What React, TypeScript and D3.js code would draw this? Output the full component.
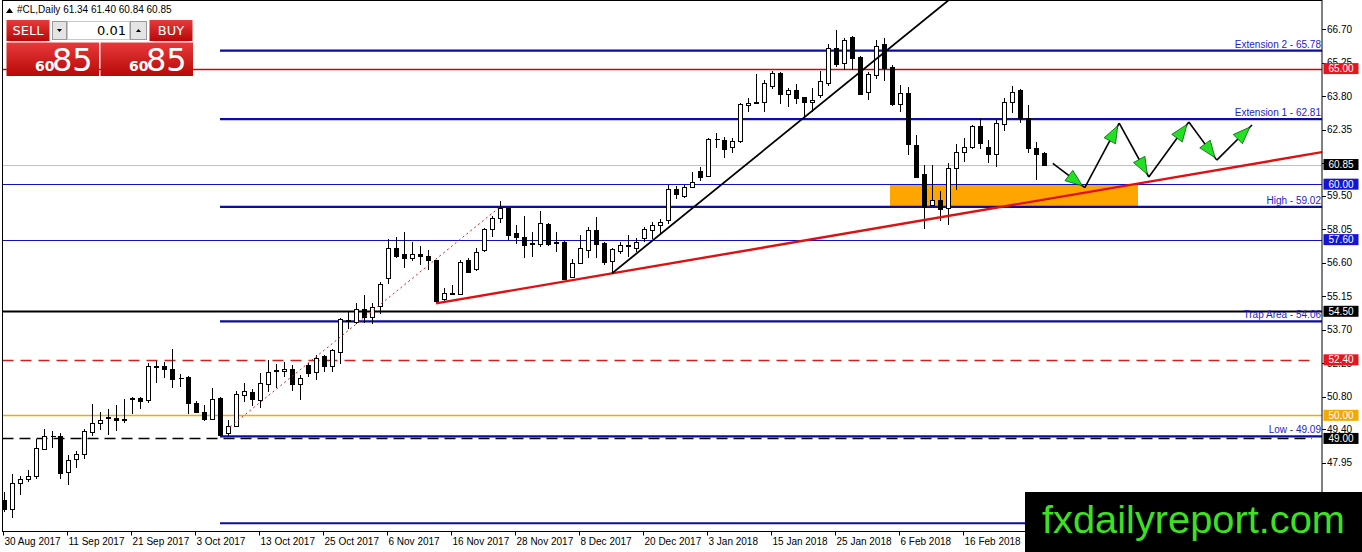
import React from 'react';
import { scaleLinear, line } from 'd3';

// daily candles, 30 Aug 2017 .. 2 Mar 2018
const opens = [
  46.32, 45.93, 47.09, 47.26, 47.37, 48.56, 49.09, 49.09, 47.55, 48.11,
  48.31, 49.28, 49.67, 49.88, 49.9, 49.86, 50.71, 50.74, 50.65, 52.1,
  52.12, 52.02, 51.62, 51.65, 50.55, 50.14, 49.84, 50.74, 49.25, 49.54,
  50.88, 50.99, 50.68, 51.37, 51.9, 51.92, 52.02, 51.37, 52.16, 51.88,
  52.55, 52.14, 52.74, 54.07, 54.04, 54.62, 54.26, 54.72, 55.96, 57.26,
  56.96, 56.81, 57.0, 56.89, 56.71, 55.05, 55.27, 55.23, 56.71, 56.35,
  57.15, 58.06, 58.52, 58.95, 57.9, 57.72, 57.4, 57.43, 58.27, 57.51,
  57.51, 55.99, 56.61, 57.17, 58.01, 57.46, 56.68, 57.12, 57.33, 57.25,
  57.65, 58.01, 58.23, 58.47, 59.79, 59.5, 59.86, 60.57, 60.36, 61.95,
  61.92, 61.59, 61.87, 63.42, 63.52, 63.54, 64.26, 64.79, 63.89, 64.06,
  63.78, 63.54, 63.86, 64.39, 65.88, 65.23, 66.38, 65.52, 63.97, 64.72,
  66.05, 65.08, 63.45, 63.93, 61.69, 60.42, 59.12, 59.31, 58.95, 60.68,
  61.4, 61.62, 62.51, 61.59, 61.3, 62.59, 63.57, 64.07, 62.85, 61.55,
  61.34,
];
const highs = [
  46.68, 47.45, 47.37, 47.62, 48.99, 49.39, 49.31, 49.25, 48.27, 48.44,
  49.41, 50.48, 50.16, 50.29, 50.43, 50.72, 50.79, 50.79, 52.27, 52.35,
  52.31, 52.86, 51.78, 51.69, 50.61, 50.43, 51.2, 50.79, 49.78, 51.04,
  51.41, 51.14, 51.85, 52.41, 52.24, 52.31, 52.16, 51.73, 52.28, 52.6,
  52.6, 52.89, 54.22, 54.48, 54.87, 55.2, 54.84, 55.75, 57.61, 57.72,
  57.94, 57.51, 57.33, 57.15, 56.74, 55.51, 55.63, 56.71, 56.79, 57.25,
  58.11, 58.63, 59.27, 58.98, 58.23, 58.63, 57.94, 58.85, 58.3, 57.94,
  57.54, 56.76, 57.8, 58.16, 58.59, 57.51, 57.22, 57.48, 57.8, 57.68,
  58.16, 58.37, 58.49, 59.96, 59.93, 59.96, 60.51, 60.75, 61.98, 62.2,
  62.02, 61.98, 63.5, 63.71, 64.75, 64.51, 64.9, 64.84, 64.15, 64.32,
  63.78, 64.15, 64.9, 66.05, 66.67, 66.34, 66.43, 65.56, 64.87, 66.24,
  66.31, 65.16, 64.29, 64.19, 62.12, 60.82, 60.82, 59.7, 60.9, 61.72,
  61.98, 62.56, 62.85, 61.91, 62.77, 63.71, 64.25, 64.1, 63.42, 61.81,
  61.4,
];
const lows = [
  45.82, 45.57, 46.57, 47.11, 47.26, 48.53, 48.59, 47.23, 46.97, 47.73,
  48.12, 49.09, 49.35, 49.16, 49.32, 49.67, 50.04, 50.26, 50.53, 51.4,
  51.6, 51.2, 51.23, 50.07, 50.1, 49.76, 49.78, 49.09, 49.12, 49.51,
  50.59, 50.39, 50.33, 51.01, 51.2, 51.66, 51.05, 50.68, 51.66, 51.52,
  51.88, 51.88, 52.24, 53.75, 53.93, 54.01, 53.94, 54.4, 55.66, 56.79,
  56.38, 56.67, 56.5, 56.28, 54.84, 54.88, 55.2, 55.2, 56.18, 56.24,
  57.05, 57.72, 58.34, 57.58, 57.43, 56.79, 56.86, 57.29, 57.33, 57.07,
  55.85, 55.92, 56.57, 56.79, 56.81, 56.52, 56.14, 56.96, 56.86, 57.07,
  57.48, 57.62, 57.79, 58.27, 59.34, 59.38, 59.82, 60.13, 60.29, 61.58,
  61.12, 61.33, 61.79, 63.11, 63.47, 63.11, 64.12, 63.45, 63.32, 63.45,
  62.85, 63.14, 63.71, 64.26, 65.08, 64.94, 64.94, 63.86, 63.64, 64.55,
  64.46, 63.39, 63.11, 61.26, 60.25, 58.08, 59.09, 58.4, 58.23, 59.74,
  60.94, 61.52, 61.52, 60.9, 60.75, 62.3, 63.06, 62.63, 61.37, 60.18,
  60.84,
];
const closes = [
  45.96, 47.07, 47.26, 47.36, 48.6, 49.12, 49.11, 47.5, 48.08, 48.34,
  49.32, 49.67, 49.81, 49.92, 49.78, 49.8, 50.74, 50.62, 52.12, 52.12,
  51.99, 51.57, 51.6, 50.53, 50.14, 49.86, 50.72, 49.16, 49.54, 50.94,
  51.04, 50.69, 51.41, 51.88, 51.94, 52.02, 51.37, 51.63, 51.85, 52.48,
  52.14, 52.81, 54.16, 54.14, 54.62, 54.26, 54.69, 55.7, 57.22, 56.9,
  56.79, 57.0, 56.9, 56.73, 54.94, 55.31, 55.3, 56.64, 56.21, 57.07,
  58.04, 58.55, 58.95, 57.82, 57.72, 57.36, 57.45, 58.3, 57.43, 57.47,
  55.89, 56.57, 57.26, 58.01, 57.43, 56.64, 57.19, 57.36, 57.35, 57.51,
  58.04, 58.23, 58.37, 59.79, 59.57, 59.89, 60.1, 60.32, 61.94, 61.97,
  61.5, 61.88, 63.45, 63.5, 63.55, 64.36, 64.79, 63.89, 64.06, 63.71,
  63.54, 63.64, 64.46, 65.88, 65.2, 66.24, 65.47, 63.9, 64.75, 65.98,
  65.04, 63.45, 63.93, 61.72, 60.32, 59.02, 59.31, 58.92, 60.71, 61.4,
  61.59, 62.51, 61.76, 61.3, 62.63, 63.54, 63.97, 62.85, 61.55, 61.3,
  60.85,
];

// x-axis labels, one every 8 bars
const dateLabels = [
  '30 Aug 2017', '11 Sep 2017', '21 Sep 2017', '3 Oct 2017', '13 Oct 2017',
  '25 Oct 2017', '6 Nov 2017', '16 Nov 2017', '28 Nov 2017', '8 Dec 2017',
  '20 Dec 2017', '3 Jan 2018', '15 Jan 2018', '25 Jan 2018', '6 Feb 2018',
  '16 Feb 2018', '28 Feb 2018',
];
const yTicks = [
  66.7, 65.25, 63.8, 62.35, 60.9, 59.5, 58.05, 56.6, 55.15, 53.7, 52.25,
  50.8, 49.4, 47.95, 46.5,
];

// fibo style levels drawn from the 3 Oct low
const fiboNames = ['Extension 2', 'Extension 1', 'High', 'Trap Area', 'Low', ''];
const fiboValues = [65.78, 62.81, 59.02, 54.06, 49.09, 45.33];
const fiboStartBar = 27;

// full width levels with price tags
const levelValues = [65.0, 60.85, 60.0, 57.6, 54.5, 52.4, 50.0, 49.0];
const levelKinds = ['red', 'bid', 'blue', 'blue', 'black', 'redDash', 'gold', 'blackDash'];

// drawn objects: [bar, price]
const redTrend = [[54, 54.84], [132, 59.45]];
const blackTrend = [[76, 56.14], [112.6, 66.42]];
const dottedTrend = [[28.25, 49.5], [61.8, 58.96]];
const zoneBars = [110.75, 141.75];
const zonePrices = [60.0, 59.02];
const arrowBars = [131.1, 135.1, 139.4, 143.1, 148.1, 151.6, 156];
const arrowPrices = [60.9, 59.85, 62.64, 60.31, 62.69, 61.04, 62.56];

const header = '#CL,Daily  61.34 61.40 60.84 60.85';

const W = 1362;
const H = 552;
const plotL = 2.5;
const plotR = 1322;
const plotT = 0.5;
const plotB = 531.5;
const font = "'Liberation Sans', Arial, sans-serif";

const kindStyle: Record<string, any> = {
  red: { stroke: '#e00000', width: 1.5, dash: null, tag: '#e8141e' },
  bid: { stroke: '#c0c0c0', width: 1, dash: null, tag: '#000000' },
  blue: { stroke: '#1010c0', width: 1.2, dash: null, tag: '#1414d2' },
  black: { stroke: '#000000', width: 2, dash: null, tag: '#000000' },
  redDash: { stroke: '#d21e1e', width: 1.6, dash: '11,7', tag: '#e8141e' },
  gold: { stroke: '#f0ac00', width: 1.3, dash: null, tag: '#f5a800' },
  blackDash: { stroke: '#000000', width: 1.3, dash: '11,6', tag: '#000000' },
};

const x = scaleLinear().domain([0, 130]).range([4, 1044]);
const y = scaleLinear().domain([66.7, 47.95]).range([29.3, 462.7]);

const extend = (p: number[][], toX: number) => {
  const x1 = x(p[0][0]), y1 = y(p[0][1]);
  const x2 = x(p[1][0]), y2 = y(p[1][1]);
  const k = (y2 - y1) / (x2 - x1);
  return { x1, y1, x2: toX, y2: y1 + k * (toX - x1) };
};

const Arrow = ({ a, b }: { a: number[]; b: number[] }) => {
  const dx = b[0] - a[0];
  const dy = b[1] - a[1];
  const len = Math.hypot(dx, dy);
  const ux = dx / len, uy = dy / len;
  const tipX = b[0] - ux * 3, tipY = b[1] - uy * 3;
  const bx = tipX - ux * 17, by = tipY - uy * 17;
  const px = -uy * 6.5, py = ux * 6.5;
  return (
    <g>
      <line x1={a[0]} y1={a[1]} x2={b[0]} y2={b[1]} stroke='#000' strokeWidth={1.6} />
      <polygon
        points={`${tipX},${tipY} ${bx + px},${by + py} ${bx - px},${by - py}`}
        fill='#22e022'
        stroke='#0a5a0a'
        strokeWidth={0.8}
      />
    </g>
  );
};

const Panel = () => (
  <g fontFamily="Tahoma, 'DejaVu Sans', sans-serif">
    <defs>
      <linearGradient id='redg' x1='0' y1='0' x2='0' y2='1'>
        <stop offset='0' stopColor='#e83a3a' />
        <stop offset='1' stopColor='#b80808' />
      </linearGradient>
    </defs>
    <rect x={50} y={20} width={99} height={21} fill='#fff' />
    <rect x={6.5} y={20} width={43} height={21} fill='url(#redg)' />
    <text x={28} y={35} fill='#fff' fontSize={13} textAnchor='middle'>SELL</text>
    <rect x={52.5} y={21.5} width={14} height={18} fill='#e4e4e4' stroke='#9a9a9a' />
    <path d='M57,29 L62,29 L59.5,32 Z' fill='#000' />
    <rect x={67.5} y={21.5} width={62} height={18} fill='#fff' stroke='#c8c8c8' />
    <text x={126} y={35} fill='#000' fontSize={13} textAnchor='end'>0.01</text>
    <rect x={130.5} y={21.5} width={16} height={18} fill='#e4e4e4' stroke='#9a9a9a' />
    <path d='M136,32 L141,32 L138.5,29 Z' fill='#000' />
    <rect x={149.5} y={20} width={43} height={21} fill='url(#redg)' />
    <text x={171} y={35} fill='#fff' fontSize={13} textAnchor='middle'>BUY</text>
    <line x1={10} y1={41.5} x2={46} y2={41.5} stroke='#f0a0a0' strokeWidth={0.6} />
    <line x1={153} y1={41.5} x2={189} y2={41.5} stroke='#f0a0a0' strokeWidth={0.6} />
    <rect x={6.5} y={42.5} width={92.5} height={33.5} fill='url(#redg)' />
    <rect x={100.5} y={42.5} width={92.5} height={33.5} fill='url(#redg)' />
    <text x={35} y={71} fill='#fff' fontSize={14} fontWeight='bold'>60</text>
    <text x={52} y={71} fill='#fff' fontSize={32}>85</text>
    <text x={129} y={71} fill='#fff' fontSize={14} fontWeight='bold'>60</text>
    <text x={146} y={71} fill='#fff' fontSize={32}>85</text>
  </g>
);

export default function App() {
  const red = extend(redTrend, plotR);
  const black = extend(blackTrend, 1000);
  const dotted = {
    x1: x(dottedTrend[0][0]),
    y1: y(dottedTrend[0][1]),
    x2: x(dottedTrend[1][0]),
    y2: y(dottedTrend[1][1]),
  };
  const arrowPts = arrowBars.map((b, i) => [x(b), y(arrowPrices[i])]);
  const dotLine = line();

  return (
    <div style={{ position: 'fixed', left: 0, top: 0 }}>
      <svg width={W} height={H} style={{ display: 'block', background: '#fff' }} fontFamily={font}>
        <defs>
          <clipPath id='plot'>
            <rect x={plotL} y={plotT} width={plotR - plotL} height={plotB - plotT} />
          </clipPath>
        </defs>

        <g clipPath='url(#plot)'>
          {/* support zone */}
          <rect
            x={x(zoneBars[0])}
            y={y(zonePrices[0])}
            width={x(zoneBars[1]) - x(zoneBars[0])}
            height={y(zonePrices[1]) - y(zonePrices[0])}
            fill='#ffa500'
          />

          {/* full width levels */}
          {levelValues.map((v, i) => {
            const s = kindStyle[levelKinds[i]];
            return (
              <line
                key={'lv' + i}
                x1={plotL}
                x2={s.dash ? plotR - 10 : plotR}
                y1={Math.round(y(v)) + 0.5}
                y2={Math.round(y(v)) + 0.5}
                stroke={s.stroke}
                strokeWidth={s.width}
                strokeDasharray={s.dash || undefined}
              />
            );
          })}

          {/* fibo levels */}
          {fiboValues.map((v, i) => (
            <line
              key={'fb' + i}
              x1={x(fiboStartBar)}
              x2={plotR}
              y1={y(v)}
              y2={y(v)}
              stroke='#0c0ca0'
              strokeWidth={2.2}
            />
          ))}

          {/* candles */}
          <g shapeRendering='crispEdges'>
            {opens.map((o, i) => {
              const c = closes[i];
              const cx = Math.round(x(i)) + 0.5;
              const top = Math.round(y(Math.max(o, c))) + 0.5;
              const bot = Math.round(y(Math.min(o, c))) + 0.5;
              const bull = c >= o;
              return (
                <g key={'c' + i}>
                  <line x1={cx} x2={cx} y1={y(highs[i])} y2={y(lows[i])} stroke='#000' />
                  {bot - top < 1 ? (
                    <line x1={cx - 2} x2={cx + 3} y1={top} y2={top} stroke='#000' />
                  ) : (
                    <rect
                      x={cx - 2}
                      y={top}
                      width={4}
                      height={bot - top}
                      fill={bull ? '#fff' : '#000'}
                      stroke='#000'
                    />
                  )}
                </g>
              );
            })}
          </g>

          {/* trend lines */}
          <path
            d={dotLine([[dotted.x1, dotted.y1], [dotted.x2, dotted.y2]]) || ''}
            stroke='#d02020'
            strokeWidth={1}
            strokeDasharray='2,3'
            fill='none'
          />
          <line {...red} stroke='#e01010' strokeWidth={2.4} />
          <line {...black} stroke='#000' strokeWidth={1.8} />

          {/* projected path */}
          {arrowPts.slice(1).map((p, i) => (
            <Arrow key={'ar' + i} a={arrowPts[i]} b={p} />
          ))}
        </g>

        {/* fibo labels */}
        {fiboValues.map((v, i) =>
          fiboNames[i] ? (
            <text
              key={'fl' + i}
              x={plotR - 1}
              y={y(v) - 3}
              fill='#2222cc'
              fontSize={10}
              textAnchor='end'
            >
              {`${fiboNames[i]} - ${v.toFixed(2)}`}
            </text>
          ) : null
        )}

        {/* frame */}
        <rect
          x={plotL}
          y={plotT}
          width={plotR - plotL}
          height={plotB - plotT}
          fill='none'
          stroke='#000'
          strokeWidth={1}
        />

        {/* price axis */}
        {yTicks.map((v, i) => (
          <g key={'yt' + i}>
            <line x1={plotR} x2={plotR + 4} y1={Math.round(y(v)) + 0.5} y2={Math.round(y(v)) + 0.5} stroke='#000' />
            <text x={plotR + 5} y={y(v)} dy='0.35em' fontSize={10} fill='#000'>
              {v.toFixed(2)}
            </text>
          </g>
        ))}
        {levelValues.map((v, i) => {
          const s = kindStyle[levelKinds[i]];
          return (
            <g key={'tag' + i}>
              <rect x={plotR + 1.5} y={y(v) - 5.5} width={35} height={11} fill={s.tag} />
              <text x={plotR + 19} y={y(v)} dy='0.36em' fontSize={10} fill='#fff' textAnchor='middle'>
                {v.toFixed(2)}
              </text>
            </g>
          );
        })}

        {/* time axis */}
        {dateLabels.map((d, i) => {
          const tx = Math.round(x(i * 8)) - 0.5;
          return (
            <g key={'xt' + i}>
              <line x1={tx} x2={tx} y1={plotB} y2={plotB + 4} stroke='#000' />
              <text x={tx + 1} y={545} fontSize={10} fill='#000'>
                {d}
              </text>
            </g>
          );
        })}

        {/* header */}
        <path d='M6,13 L9.5,8 L13,13 Z' fill='#000' />
        <text x={17} y={13} fontSize={10} fill='#000'>
          {header}
        </text>

        <Panel />

        {/* watermark */}
        <rect x={1025} y={492} width={W - 1025} height={H - 492} fill='#000' />
        <text
          x={1042}
          y={533}
          fontSize={38}
          fill='#3ee022'
          textLength={303}
          lengthAdjust='spacingAndGlyphs'
          fontFamily="'Liberation Sans', Arial, sans-serif"
        >
          fxdailyreport.com
        </text>
      </svg>
    </div>
  );
}
